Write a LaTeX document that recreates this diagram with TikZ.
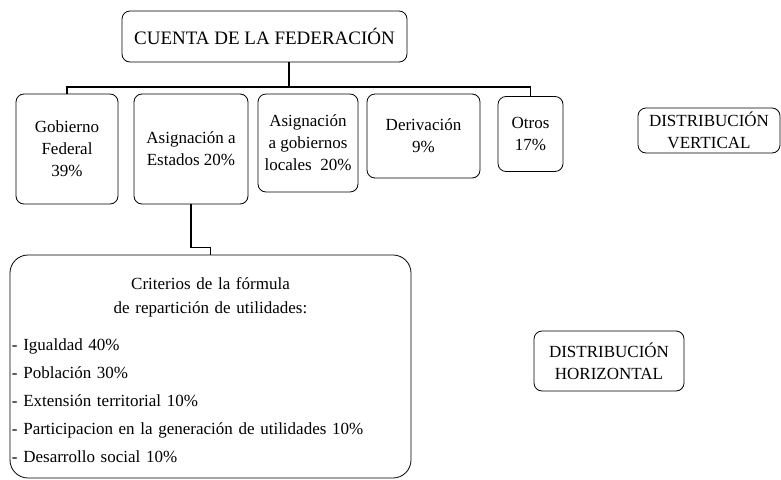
\documentclass[tikz,border=0pt]{standalone}
\usepackage{fontspec}
\setmainfont{Liberation Serif}
\usetikzlibrary{positioning}

\tikzset{
  caja/.style={draw, rounded corners=8pt, line width=0.8pt, align=center,
    inner sep=2pt, font=\fontsize{17}{22}\selectfont},
  cajagrande/.style={draw, rounded corners=18pt, line width=0.8pt,
    inner xsep=2pt, font=\fontsize{17}{22}\selectfont},
  linea/.style={line width=1.2pt}
}

\begin{document}
\begin{tikzpicture}[x=1pt,y=1pt]
  \useasboundingbox (0,0) rectangle (781,-479);

  \node[caja, minimum width=285pt, minimum height=51pt,
        font=\fontsize{19}{23}\selectfont] (cuenta) at (264.5,-36.5)
        {CUENTA DE LA FEDERACIÓN};

  % distribucion vertical
  \node[caja, minimum width=102pt, minimum height=110pt] (gobierno) at (67,-149)
        {Gobierno\\Federal\\39\%};
  \node[caja, minimum width=114pt, minimum height=110pt] (estados) at (191,-149)
        {Asignación a\\Estados 20\%};
  \node[caja, minimum width=100pt, minimum height=98pt] (locales) at (308,-143)
        {Asignación\\a gobiernos\\locales\ \ 20\%};
  \node[caja, minimum width=113pt, minimum height=84pt] (derivacion) at (423.5,-136)
        {Derivación\\9\%};
  \node[caja, minimum width=65pt, minimum height=75pt] (otros) at (530.5,-134)
        {Otros\\17\%};
  \node[caja, minimum width=142pt, minimum height=45pt] (vertical) at (709,-130.5)
        {DISTRIBUCIÓN\\VERTICAL};

  % distribucion horizontal
  \node[cajagrande, text width=397pt, minimum height=223pt] (criterios) at (210.5,-366.5)
        {{\centering\rule{0pt}{18.5pt}Criterios de la fórmula\\[2pt]de repartición de utilidades:\par}
         \vspace{15pt}
         \raggedright
         - Igualdad 40\%\\[6pt]
         - Población 30\%\\[6pt]
         - Extensión territorial 10\%\\[6pt]
         - Participacion en la generación de utilidades 10\%\\[6pt]
         - Desarrollo social 10\%};
  \node[caja, minimum width=150pt, minimum height=60pt] (horizontal) at (609,-361)
        {DISTRIBUCIÓN\\HORIZONTAL};

  % conectores
  \coordinate (barra) at (289,-87);
  \draw[linea] (cuenta.south -| barra) -- (barra);
  \draw[linea] (gobierno.north) -- (gobierno.north |- barra)
        -- (otros.north |- barra) -- (otros.north);
  \draw[linea] (estados.south) -- ++(0,-43) -| (criterios.north);
\end{tikzpicture}
\end{document}
